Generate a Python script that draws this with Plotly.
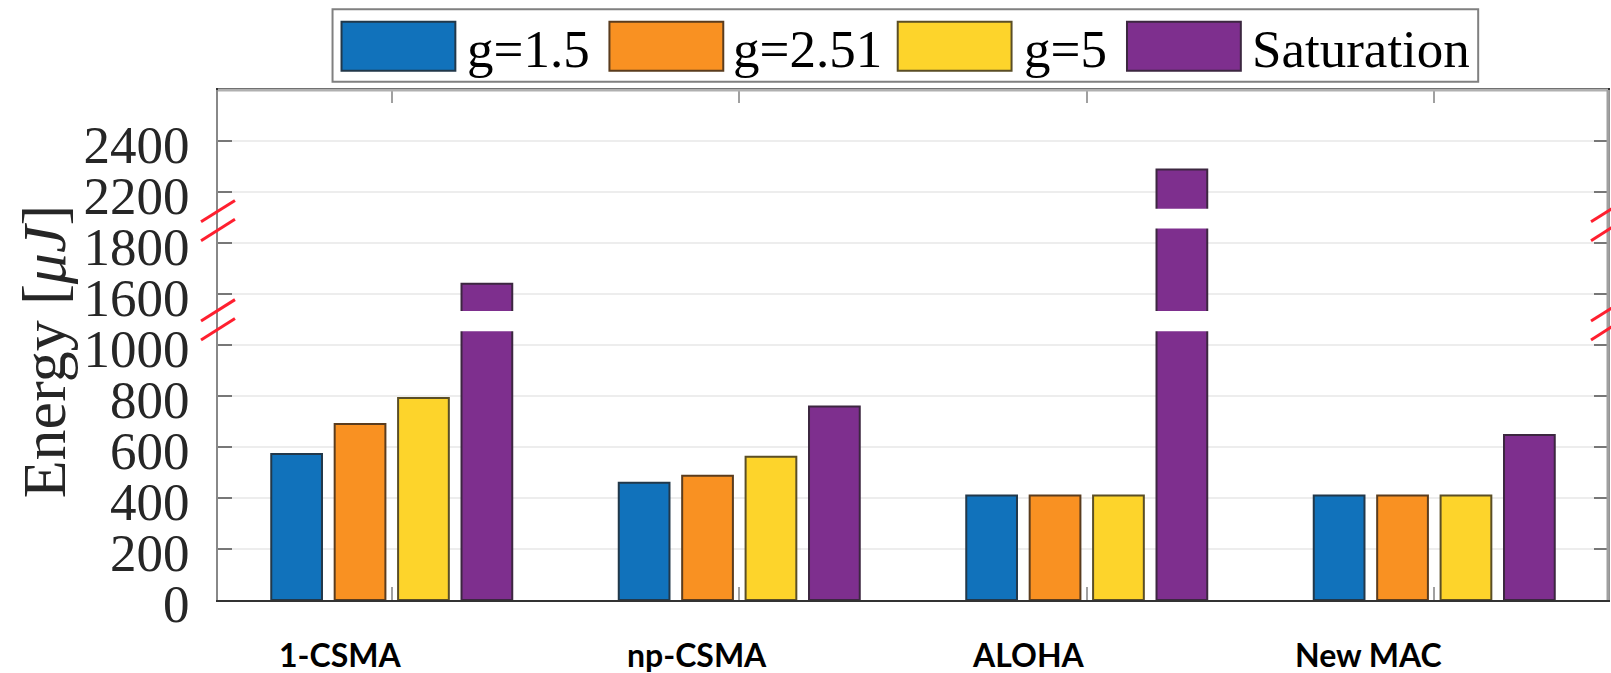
import plotly.graph_objects as go

# ---------------- data ----------------
categories = ["1-CSMA", "np-CSMA", "ALOHA", "New MAC"]
series_names = ["g=1.5", "g=2.51", "g=5", "Saturation"]
g_1_5 = [573, 460, 410, 410]
g_2_51 = [690, 487, 410, 410]
g_5 = [792, 562, 410, 410]
saturation = [1640, 759, 2288, 647]
ytick_labels = [0, 200, 400, 600, 800, 1000, 1600, 1800, 2200, 2400]

# ---------------- style ----------------
fills = ["#1172BB", "#F99122", "#FDD42B", "#7E2F8E"]
edges = ["#22384a", "#5a3c1e", "#5a4e26", "#3c2740"]
label_shift = [-52, -42, -58, -66]

# broken axis: display = value - offset of its segment
segments = [(0, 1100, 0), (1100, 1900, 400), (1900, 1e9, 600)]
gaps = [(1054, 1133), (1457, 1534)]      # white cuts (display units)
break_marks = [1099, 1488]               # centre of the red // marks


def to_display(v):
    for lo, hi, off in segments:
        if v <= hi:
            return v - off
    return v


L, R, T, B = 218, 1, 90, 73
W, H = 1611, 673
PW, PH = W - L - R, H - T - B


def px(x):
    return (x - L) / PW


def py(y):
    return (H - B - y) / PH


fig = go.Figure()
for name, vals, fc, ec in zip(series_names, [g_1_5, g_2_51, g_5, saturation], fills, edges):
    fig.add_trace(go.Bar(
        x=categories, y=[to_display(v) for v in vals], name=name,
        marker=dict(color=fc, line=dict(color=ec, width=2)),
        showlegend=False, hovertext=[str(v) for v in vals],
    ))

shapes = []
# white cuts through the bars
for g0, g1 in gaps:
    shapes.append(dict(type="rect", xref="paper", yref="y", x0=0.002, x1=0.998,
                       y0=g0, y1=g1, fillcolor="white", line=dict(width=0), layer="above"))
# frame overrides
shapes.append(dict(type="line", xref="paper", yref="paper", x0=0, x1=1, y0=1, y1=1,
                   line=dict(color="#b0b0b0", width=3), layer="above"))
shapes.append(dict(type="line", xref="paper", yref="paper", x0=1, x1=1, y0=0, y1=1,
                   line=dict(color="#a0a0a0", width=3), layer="above"))
# red break marks on both axes
hx = 17 / PW
for yc in break_marks:
    for xc in (0, 1):
        for dy in (-37, 37):
            shapes.append(dict(type="line", xref="paper", yref="y",
                               x0=xc - hx, x1=xc + hx, y0=yc + dy - 42, y1=yc + dy + 42,
                               line=dict(color="#ff1f2f", width=3), layer="above"))

# custom legend
leg_box = (332.7, 1480, 9.3, 81.7)
shapes.append(dict(type="rect", xref="paper", yref="paper",
                   x0=px(leg_box[0]), x1=px(leg_box[1]), y0=py(leg_box[3]), y1=py(leg_box[2]),
                   fillcolor="white", line=dict(color="#808080", width=2), layer="above"))
patch_x = [341.7, 610, 898.7, 1128.3]
text_x = [465, 731.7, 1022.7, 1251.7]
annotations = []
for i, name in enumerate(series_names):
    shapes.append(dict(type="rect", xref="paper", yref="paper",
                       x0=px(patch_x[i]), x1=px(patch_x[i] + 114), y0=py(70.7), y1=py(21.7),
                       fillcolor=fills[i], line=dict(color=edges[i], width=2), layer="above"))
    annotations.append(dict(text=name, xref="paper", yref="paper", x=px(text_x[i]), y=py(49),
                            xanchor="left", yanchor="middle", showarrow=False,
                            font=dict(family="Liberation Serif", size=53, color="#000")))

# category labels (placed below the axis)
for i, c in enumerate(categories):
    annotations.append(dict(text="<b>" + c + "</b>", xref="x", yref="paper", x=c, y=py(654),
                            xshift=label_shift[i], xanchor="center", yanchor="middle",
                            showarrow=False,
                            font=dict(family="Lato", size=32, color="#000")))

# y title
annotations.append(dict(text="Energy [<i>μJ</i>]", xref="paper", yref="paper",
                        x=px(44), y=py(352), textangle=-90, xanchor="center", yanchor="middle",
                        showarrow=False,
                        font=dict(family="Liberation Serif", size=62, color="#262626")))

fig.update_layout(
    width=W, height=H, margin=dict(l=L, r=R, t=T, b=B, pad=0),
    paper_bgcolor="white", plot_bgcolor="white",
    barmode="group", bargap=0.27, bargroupgap=0.2,
    shapes=shapes, annotations=annotations, showlegend=False,
    xaxis=dict(range=[-0.5, 3.5], showticklabels=False, ticks="inside", ticklen=13,
               tickwidth=2, tickcolor="#a0a0a0", showline=True, linecolor="#333333",
               linewidth=2, mirror="ticks", showgrid=False, zeroline=False),
    yaxis=dict(range=[0, 2000], tickvals=[to_display(v) for v in ytick_labels],
               ticktext=[str(v) for v in ytick_labels], ticks="inside", ticklen=14,
               tickwidth=2, tickcolor="#777777", showline=True, linecolor="#888888",
               linewidth=2, mirror="ticks", showgrid=True, gridcolor="#ededed",
               gridwidth=2, zeroline=False, ticklabelstandoff=16, ticklabelshift=3,
               tickfont=dict(family="Liberation Serif", size=53, color="#262626")),
)

fig.write_html("out.html", config={"displayModeBar": False},
               post_script="document.body.style.margin='0';document.body.style.overflow='hidden';")
